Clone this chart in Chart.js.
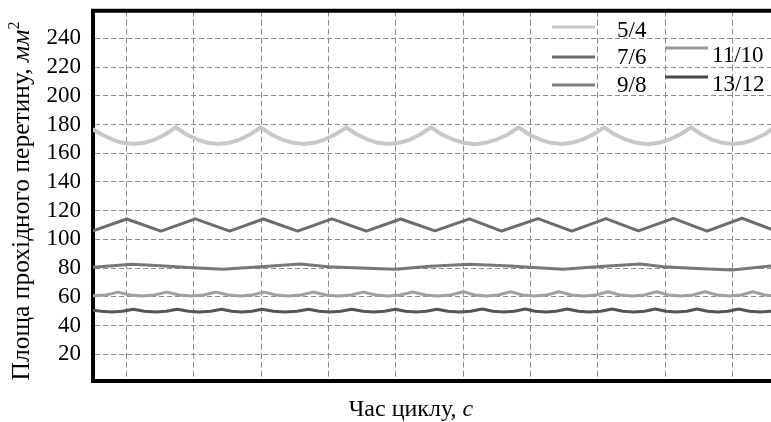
<!DOCTYPE html>
<html>
<head>
<meta charset="utf-8">
<script src="https://cdn.jsdelivr.net/npm/chart.js@4.4.1/dist/chart.umd.min.js"></script>
<style>
  html, body { margin: 0; padding: 0; background: #fff; }
  canvas { display: block; }
</style>
</head>
<body>
<canvas id="chart" width="771" height="422"></canvas>
<script>
// series names (valve ratios)
const seriesNames = ['5/4', '7/6', '9/8', '11/10', '13/12'];

// y ticks and vertical grid positions (time axis has no labels)
const yTicks = [20, 40, 60, 80, 100, 120, 140, 160, 180, 200, 220, 240];
const gridTimes = [0.5, 1.5, 2.5, 3.5, 4.5, 5.5, 6.5, 7.5, 8.5, 9.5];

// 5/4
const time54 = [0, 0.13, 0.29, 0.44, 0.60, 0.76, 0.92, 1.07, 1.23,
  1.39, 1.55, 1.70, 1.86, 2.02, 2.18, 2.33, 2.49,
  2.65, 2.81, 2.97, 3.13, 3.28, 3.44, 3.60, 3.76,
  3.92, 4.08, 4.23, 4.39, 4.55, 4.71, 4.86, 5.02,
  5.18, 5.35, 5.51, 5.67, 5.83, 6.00, 6.16, 6.32,
  6.48, 6.64, 6.80, 6.96, 7.11, 7.27, 7.43, 7.59,
  7.75, 7.91, 8.07, 8.24, 8.40, 8.56, 8.72, 8.88,
  9.04, 9.19, 9.35, 9.50, 9.66, 9.81, 9.97, 10.12];
const area54 = [176.5, 173, 169.5, 167.2, 166.4, 167.2, 169.5, 173, 178,
  173, 169.5, 167.2, 166.4, 167.2, 169.5, 173, 178,
  173, 169.5, 167.2, 166.4, 167.2, 169.5, 173, 178,
  173, 169.5, 167.2, 166.4, 167.2, 169.5, 173, 178,
  173, 169.5, 167.2, 166.3, 167.2, 169.5, 173, 178,
  173, 169.5, 167.2, 166.4, 167.2, 169.5, 173, 178,
  173, 169.5, 167.2, 166.3, 167.2, 169.5, 173, 178,
  173, 169.5, 167.2, 166.4, 167.2, 169.5, 173, 178];

// 7/6
const time76 = [0, 0.50, 1.01, 1.52, 2.03, 2.53, 3.04, 3.55, 4.06, 4.57, 5.08,
  5.59, 6.07, 6.61, 7.11, 7.62, 8.10, 8.62, 9.12, 9.64, 10.15];
const area76 = [106, 114.2, 105.8, 114.3, 105.8, 114.2, 105.8, 114.3, 105.8, 114.2, 105.9,
  114.3, 105.8, 114.4, 105.8, 114.5, 105.9, 114.6, 105.8, 114.7, 105.8];

// 9/8
const time98 = [0, 0.58, 1.00, 1.48, 1.93, 2.26, 2.49, 3.08, 3.49, 3.97, 4.49,
  5.01, 5.59, 6.20, 6.48, 6.98, 7.48, 8.13, 8.47, 8.97, 9.49, 10.07];
const area98 = [80.6, 82.7, 81.7, 80.3, 79.2, 80.2, 81.0, 82.9, 81.0, 80.1, 79.2,
  81.3, 82.7, 81.5, 80.6, 79.2, 81.0, 82.9, 81.0, 79.7, 78.7, 81.5];

// 11/10
const time1110 = [0, 0.19, 0.37,
  0.55, 0.73, 0.91, 1.09,
  1.28, 1.46, 1.64, 1.83,
  2.01, 2.19, 2.36, 2.54,
  2.72, 2.91, 3.09, 3.27,
  3.46, 3.64, 3.83, 4.01,
  4.20, 4.38, 4.56, 4.75,
  4.94, 5.12, 5.31, 5.50,
  5.67, 5.85, 6.02, 6.20,
  6.38, 6.56, 6.74, 6.92,
  7.11, 7.29, 7.47, 7.65,
  7.83, 8.01, 8.19, 8.37,
  8.55, 8.73, 8.91, 9.09,
  9.27, 9.45, 9.63, 9.80,
  9.98, 10.16];
const area1110 = [60.7, 61.3, 63.3,
  61.3, 60.6, 61.3, 63.3,
  61.3, 60.6, 61.3, 63.3,
  61.3, 60.6, 61.3, 63.3,
  61.3, 60.6, 61.3, 63.3,
  61.3, 60.6, 61.3, 63.3,
  61.3, 60.6, 61.3, 63.3,
  61.3, 60.6, 61.3, 63.5,
  61.3, 60.6, 61.3, 63.5,
  61.3, 60.6, 61.3, 63.5,
  61.3, 60.6, 61.3, 63.5,
  61.3, 60.6, 61.3, 63.5,
  61.3, 60.6, 61.3, 63.5,
  61.3, 60.6, 61.3, 63.5,
  61.3, 60.6];

// 13/12
const time1312 = [0, 0.12, 0.28, 0.44, 0.60,
  0.76, 0.93, 1.09, 1.25,
  1.42, 1.58, 1.75, 1.91,
  2.06, 2.21, 2.36, 2.51,
  2.68, 2.85, 3.03, 3.20,
  3.36, 3.52, 3.68, 3.84,
  4.01, 4.17, 4.33, 4.49,
  4.64, 4.80, 4.95, 5.11,
  5.27, 5.44, 5.61, 5.78,
  5.94, 6.10, 6.26, 6.42,
  6.57, 6.73, 6.88, 7.04,
  7.21, 7.37, 7.54, 7.71,
  7.87, 8.03, 8.19, 8.35,
  8.51, 8.66, 8.82, 8.97,
  9.13, 9.28, 9.43, 9.59,
  9.75, 9.91, 10.07];
const area1312 = [50.6, 49.9, 49.4, 49.9, 51.4,
  49.9, 49.4, 49.9, 51.4,
  49.9, 49.4, 49.9, 51.4,
  49.9, 49.4, 49.9, 51.4,
  49.9, 49.4, 49.9, 51.4,
  49.9, 49.4, 49.9, 51.4,
  49.9, 49.4, 49.9, 51.4,
  49.9, 49.4, 49.9, 51.4,
  49.9, 49.4, 49.9, 51.5,
  49.9, 49.4, 49.9, 51.5,
  49.9, 49.4, 49.9, 51.5,
  49.9, 49.4, 49.9, 51.5,
  49.9, 49.4, 49.9, 51.5,
  49.9, 49.4, 49.9, 51.5,
  49.9, 49.4, 49.9, 51.5,
  49.9, 49.4, 49.9];

const toPoints = (xs, ys) => xs.map((x, i) => ({ x: x, y: ys[i] }));

const SERIF = '"Liberation Serif", "Times New Roman", serif';
const gridColor = '#8c8c8c';

// draws a string made of pieces with different fonts, centred on x
function drawParts(ctx, parts, x, y) {
    let w = 0;
    parts.forEach(p => { ctx.font = p.font; w += ctx.measureText(p.text).width; });
    let cx = x - w / 2;
    parts.forEach(p => {
        ctx.font = p.font;
        ctx.fillText(p.text, cx, y + (p.dy || 0));
        cx += ctx.measureText(p.text).width;
    });
}

const decorations = {
    id: 'decorations',
    afterDraw(chart, args, opts) {
        const { ctx, chartArea: a } = chart;
        ctx.save();

        // top frame line
        ctx.strokeStyle = '#000';
        ctx.lineWidth = 4;
        ctx.beginPath();
        ctx.moveTo(a.left - 2, a.top);
        ctx.lineTo(a.right, a.top);
        ctx.stroke();

        // legend, two columns
        ctx.fillStyle = '#000';
        ctx.textAlign = 'left';
        ctx.textBaseline = 'alphabetic';
        opts.legend.forEach((it, i) => {
            const ds = chart.data.datasets[i];
            ctx.strokeStyle = it.color;
            ctx.lineWidth = 3;
            ctx.beginPath();
            ctx.moveTo(it.x1, it.ly);
            ctx.lineTo(it.x2, it.ly);
            ctx.stroke();
            ctx.font = '23px ' + SERIF;
            ctx.fillText(ds.label, it.tx, it.ty);
        });

        // x title
        drawParts(ctx, [
            { text: 'Час циклу, ', font: '24px ' + SERIF },
            { text: 'с', font: 'italic 24px ' + SERIF }
        ], 411, 416);

        // y title
        ctx.translate(28.5, 201);
        ctx.rotate(-Math.PI / 2);
        drawParts(ctx, [
            { text: 'Площа прохідного перетину, ', font: '25.5px ' + SERIF },
            { text: 'мм', font: 'italic 25.5px ' + SERIF },
            { text: '2', font: '16px ' + SERIF, dy: -10 }
        ], 0, 0);

        ctx.restore();
    }
};

const ctx = document.getElementById('chart').getContext('2d');
new Chart(ctx, {
    type: 'line',
    data: {
        datasets: [
            { label: seriesNames[0], data: toPoints(time54, area54), borderColor: '#c8c8c8', borderWidth: 4 },
            { label: seriesNames[1], data: toPoints(time76, area76), borderColor: '#6c6c6c', borderWidth: 3 },
            { label: seriesNames[2], data: toPoints(time98, area98), borderColor: '#777777', borderWidth: 3 },
            { label: seriesNames[3], data: toPoints(time1110, area1110), borderColor: '#a0a0a0', borderWidth: 3 },
            { label: seriesNames[4], data: toPoints(time1312, area1312), borderColor: '#555555', borderWidth: 3 }
        ]
    },
    options: {
        responsive: false,
        animation: false,
        devicePixelRatio: 1,
        layout: { padding: { top: 10.7, right: 0, bottom: 0, left: 0 } },
        elements: {
            point: { radius: 0 },
            line: { tension: 0, fill: false, borderJoinStyle: 'round', borderCapStyle: 'round' }
        },
        plugins: {
            legend: { display: false },
            tooltip: { enabled: false },
            decorations: {
                legend: [
                    { x1: 552, x2: 595, ly: 27, tx: 617, ty: 37, color: '#c8c8c8' },
                    { x1: 552, x2: 595, ly: 57, tx: 617, ty: 64, color: '#6c6c6c' },
                    { x1: 552, x2: 595, ly: 85, tx: 617, ty: 92, color: '#808080' },
                    { x1: 665, x2: 708, ly: 48, tx: 712, ty: 62, color: '#9a9a9a' },
                    { x1: 665, x2: 708, ly: 77, tx: 712, ty: 91, color: '#4a4a4a' }
                ]
            }
        },
        scales: {
            x: {
                type: 'linear',
                min: 0,
                max: 10.07,
                afterBuildTicks: s => { s.ticks = gridTimes.map(v => ({ value: v })); },
                afterFit: s => { s.height = 41; s.paddingLeft = 0; s.paddingRight = 0; },
                ticks: { display: false },
                grid: { color: gridColor, lineWidth: 1, drawTicks: false },
                border: { display: true, color: '#000', width: 4, dash: [6, 3] }
            },
            y: {
                type: 'linear',
                min: 1.4,
                max: 259.2,
                afterBuildTicks: s => { s.ticks = yTicks.map(v => ({ value: v })); },
                afterFit: s => { s.width = 93; s.paddingTop = 0; s.paddingBottom = 0; },
                ticks: { color: '#000', font: { family: SERIF, size: 23 }, padding: 12 },
                grid: { color: gridColor, lineWidth: 1, drawTicks: false },
                border: { display: true, color: '#000', width: 4, dash: [5, 3] }
            }
        }
    },
    plugins: [decorations]
});
</script>
</body>
</html>
